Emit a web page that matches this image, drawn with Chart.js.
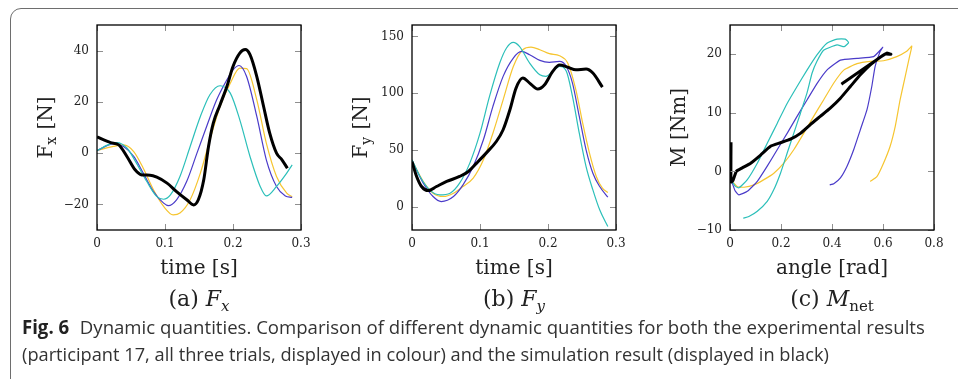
<!DOCTYPE html>
<html>
<head>
<meta charset="utf-8">
<script src="https://cdn.jsdelivr.net/npm/chart.js@4/dist/chart.umd.min.js"></script>
<style>
  body { margin: 0; width: 958px; height: 379px; overflow: hidden; background: #fff; position: relative; }
  .frame { position: absolute; left: 10px; top: 8px; width: 1000px; height: 430px; border: 1.5px solid #6e6e6e; border-radius: 11px; box-sizing: border-box; }
  canvas { position: absolute; top: 0; }
  .sub { position: absolute; top: 286px; font-family: "DejaVu Serif", serif; font-size: 22px; color: #222; white-space: nowrap; transform: translateX(-50%); }
  .sub sub { font-size: 15px; vertical-align: -5px; }
  .cap { position: absolute; left: 22px; font-family: "Open Sans", sans-serif; font-size: 19px; color: #333; white-space: nowrap; transform-origin: 0 0; }
  .cap b { color: #222; margin-right: 6px; }
</style>
</head>
<body>
<div class="frame"></div>
<canvas id="chA" width="320" height="290" style="left:0px"></canvas>
<canvas id="chB" width="320" height="290" style="left:320px"></canvas>
<canvas id="chC" width="318" height="290" style="left:640px"></canvas>
<div class="sub" style="left:199px">(a)&nbsp;<i>F</i><sub><i>x</i></sub></div>
<div class="sub" style="left:514px">(b)&nbsp;<i>F</i><sub><i>y</i></sub></div>
<div class="sub" style="left:832px">(c)&nbsp;<i>M</i><sub>net</sub></div>
<div class="cap" id="cap1" style="top:314px"><b>Fig. 6</b> Dynamic quantities. Comparison of different dynamic quantities for both the experimental results</div>
<div class="cap" id="cap2" style="top:341px">(participant 17, all three trials, displayed in colour) and the simulation result (displayed in black)</div>
<script>
// colours of the three trials
const colCyan = '#2bbfb9';
const colPurple = '#4a3bc9';
const colYellow = '#f6c530';

// tick values
const timeTicks = [0, 0.1, 0.2, 0.3];
const angleTicks = [0, 0.2, 0.4, 0.6, 0.8];
const fxTicks = [-20, 0, 20, 40];
const fyTicks = [0, 50, 100, 150];
const mTicks = [-10, 0, 10, 20];

// (a) Fx over time
const fxSimT = [0, 0.02, 0.032, 0.044, 0.056, 0.066, 0.078, 0.088, 0.103, 0.117, 0.132, 0.142, 0.149, 0.157, 0.164, 0.171, 0.181, 0.191, 0.2, 0.21, 0.218, 0.225, 0.235, 0.245, 0.254, 0.264, 0.272, 0.28];
const fxSim = [6.3, 4.1, 3.2, -1.3, -6.5, -8.5, -8.6, -9.4, -11.7, -15, -18.2, -20.2, -18.2, -10.4, 2.6, 11.7, 18.9, 26, 33.8, 39, 40.4, 38.4, 29.9, 18.2, 7.8, 0, -2.6, -5.9];
const fxCyanT = [0, 0.0196, 0.029, 0.044, 0.058, 0.073, 0.088, 0.098, 0.108, 0.122, 0.137, 0.152, 0.166, 0.181, 0.196, 0.21, 0.225, 0.24, 0.249, 0.264, 0.279, 0.287];
const fxCyan = [1, 3.6, 4.1, 2, -3.9, -11, -17, -18, -16.3, -9.1, 2.6, 14.3, 22.8, 26.3, 23.4, 13, -1.3, -13, -16.7, -13, -7.8, -4.6];
const fxPurpleT = [0, 0.024, 0.039, 0.054, 0.068, 0.083, 0.098, 0.105, 0.117, 0.132, 0.147, 0.162, 0.176, 0.191, 0.2, 0.209, 0.22, 0.235, 0.249, 0.264, 0.277, 0.287];
const fxPurple = [1, 3.6, 2.6, -1.3, -7.8, -15, -19.5, -20.5, -18.2, -11, 0, 11, 20.8, 28.6, 32.5, 34.2, 29.9, 14.3, -2.6, -13, -16.7, -17.3];
const fxYellowT = [0, 0.024, 0.039, 0.054, 0.068, 0.083, 0.098, 0.112, 0.122, 0.137, 0.152, 0.166, 0.181, 0.196, 0.21, 0.22, 0.235, 0.249, 0.264, 0.279, 0.287];
const fxYellow = [1, 2.6, 3.2, 0.6, -5.9, -14.3, -20.8, -24.1, -23.4, -18.2, -7.8, 5.2, 18.2, 27.3, 33.2, 33, 20.8, 3.9, -9.1, -15.6, -17];

// (b) Fy over time
const fySimT = [0, 0.0068, 0.014, 0.024, 0.036, 0.051, 0.07, 0.083, 0.095, 0.109, 0.124, 0.134, 0.144, 0.153, 0.163, 0.173, 0.185, 0.195, 0.207, 0.217, 0.229, 0.241, 0.256, 0.266, 0.28];
const fySim = [40, 27, 18.2, 14.6, 18.2, 22.6, 27, 31.4, 38.7, 47.5, 57.7, 68, 85.6, 104.6, 113.4, 109, 103.7, 107.5, 119.3, 124.8, 123, 120.7, 121.3, 117.8, 105.5];
const fyCyanT = [0, 0.0117, 0.026, 0.041, 0.056, 0.07, 0.085, 0.1, 0.114, 0.129, 0.139, 0.149, 0.158, 0.173, 0.188, 0.197, 0.207, 0.217, 0.227, 0.236, 0.246, 0.256, 0.266, 0.276, 0.288];
const fyCyan = [41.6, 27, 15.2, 10.8, 12.3, 21.1, 38.7, 65, 97.3, 126.6, 139.8, 144.7, 141.2, 126.6, 116.3, 114.9, 119.3, 123.6, 119.3, 97.3, 65, 35.7, 15.2, -2.3, -17];
const fyPurpleT = [0, 0.0166, 0.031, 0.043, 0.061, 0.075, 0.09, 0.105, 0.119, 0.134, 0.149, 0.161, 0.173, 0.188, 0.202, 0.217, 0.227, 0.236, 0.246, 0.256, 0.266, 0.276, 0.288];
const fyPurple = [41, 21.1, 9.4, 5, 9.4, 19.6, 35.7, 59.2, 88.5, 114.9, 131, 136.8, 133.9, 128.9, 127.2, 128, 123.6, 109, 79.7, 50.4, 29.9, 18.2, 8.8];
const fyYellowT = [0, 0.0166, 0.031, 0.046, 0.061, 0.075, 0.09, 0.105, 0.119, 0.134, 0.149, 0.163, 0.175, 0.188, 0.202, 0.217, 0.229, 0.241, 0.251, 0.261, 0.271, 0.28, 0.288];
const fyYellow = [41, 22.6, 12.3, 9.4, 12.3, 18.2, 25.5, 41.6, 65, 94.3, 123.6, 138.3, 140.6, 138.3, 134.8, 133, 126.6, 103.1, 73.8, 47.5, 27, 16.7, 12.9];

// (c) Mnet over angle
const mSimA = [0.004, 0.004, 0.012, 0.025, 0.048, 0.081, 0.12, 0.159, 0.198, 0.237, 0.276, 0.315, 0.354, 0.393, 0.433, 0.472, 0.511, 0.55, 0.589, 0.615, 0.631, 0.608, 0.437];
const mSim = [5, -1.8, -1.5, 0, 0.6, 1.4, 2.8, 4.3, 4.9, 5.5, 6.5, 8, 9.4, 10.8, 12.5, 14.5, 16.5, 18.2, 19.5, 20.2, 20, 20, 14.9];
const mCyanA = [0.005, 0.02, 0.035, 0.068, 0.107, 0.146, 0.185, 0.224, 0.263, 0.302, 0.341, 0.38, 0.42, 0.452, 0.465, 0.448, 0.42, 0.367, 0.341, 0.322, 0.302, 0.276, 0.25, 0.224, 0.198, 0.172, 0.146, 0.107, 0.074, 0.052];
const mCyan = [-1.5, -2.5, -2.8, -1.4, 1.4, 4.8, 8.2, 11.6, 14.5, 17.3, 19.9, 21.9, 22.6, 22.6, 22, 21.3, 21.6, 20.7, 18.8, 16.8, 13.4, 9.9, 6.5, 3.1, -0.3, -3.1, -5.1, -6.8, -7.7, -8];
const mPurpleA = [0.005, 0.02, 0.035, 0.068, 0.107, 0.146, 0.185, 0.224, 0.263, 0.302, 0.341, 0.38, 0.433, 0.498, 0.563, 0.589, 0.599, 0.589, 0.569, 0.556, 0.537, 0.511, 0.485, 0.459, 0.433, 0.407, 0.391];
const mPurple = [-1.5, -3.3, -4, -3.4, -1.7, 0.9, 3.7, 6.5, 9.4, 12.2, 15, 17.3, 19, 19.3, 19.6, 20.7, 21.2, 20.5, 17.9, 14.5, 10.5, 7.1, 3.7, 0.9, -1.1, -2.1, -2.3];
const mYellowA = [0.005, 0.029, 0.055, 0.094, 0.133, 0.172, 0.211, 0.25, 0.289, 0.328, 0.367, 0.407, 0.446, 0.498, 0.55, 0.602, 0.654, 0.693, 0.713, 0.704, 0.687, 0.667, 0.648, 0.628, 0.602, 0.576, 0.55];
const mYellow = [-1.5, -2.6, -2.7, -2.3, -1.4, -0.3, 1.4, 3.7, 6.5, 9.4, 12.2, 15.1, 17.3, 18.4, 18.8, 18.9, 19.6, 20.5, 21.4, 19.6, 16.2, 12.2, 7.7, 4.3, 1.4, -0.9, -1.7];

const serif = 'DejaVu Serif';

function pts(xs, ys) {
  return xs.map((x, i) => ({ x: x, y: ys[i] }));
}

function series(xs, ys, color, width, smooth) {
  return {
    data: pts(xs, ys),
    borderColor: color,
    borderWidth: width,
    showLine: true,
    pointRadius: 0,
    fill: false,
    cubicInterpolationMode: smooth ? 'monotone' : 'default',
    tension: smooth ? 0 : 0.15,
  };
}

// pgfplots-like box: inward ticks on all four sides, black frame, y title with subscript
const boxPlugin = {
  id: 'box',
  afterDatasetsDraw(chart, args, opts) {
    const { ctx, chartArea: a, scales } = chart;
    const L = 6;
    ctx.save();
    ctx.strokeStyle = '#8f8f8f';
    ctx.lineWidth = 1;
    ctx.beginPath();
    scales.x.ticks.forEach(t => {
      const px = Math.round(scales.x.getPixelForValue(t.value)) + 0.5;
      ctx.moveTo(px, a.top); ctx.lineTo(px, a.top + L);
      ctx.moveTo(px, a.bottom); ctx.lineTo(px, a.bottom - L);
    });
    scales.y.ticks.forEach(t => {
      const py = Math.round(scales.y.getPixelForValue(t.value)) + 0.5;
      ctx.moveTo(a.left, py); ctx.lineTo(a.left + L, py);
      ctx.moveTo(a.right, py); ctx.lineTo(a.right - L, py);
    });
    ctx.stroke();
    ctx.strokeStyle = '#000';
    ctx.lineWidth = 1.3;
    ctx.strokeRect(a.left, a.top, a.width, a.height);

    // y axis title
    ctx.translate(a.left - 50, (a.top + a.bottom) / 2);
    ctx.rotate(-Math.PI / 2);
    ctx.fillStyle = '#222';
    ctx.textBaseline = 'middle';
    ctx.textAlign = 'left';
    const big = '20px "' + serif + '"', small = '14px "' + serif + '"';
    ctx.font = big;
    const w1 = ctx.measureText(opts.main).width;
    const w3 = ctx.measureText(opts.rest).width;
    ctx.font = small;
    const w2 = opts.sub ? ctx.measureText(opts.sub).width + 1 : 0;
    let x0 = -(w1 + w2 + w3) / 2;
    ctx.font = big;
    ctx.fillText(opts.main, x0, 0);
    if (opts.sub) {
      ctx.font = small;
      ctx.fillText(opts.sub, x0 + w1, 5);
    }
    ctx.font = big;
    ctx.fillText(opts.rest, x0 + w1 + w2, 0);
    ctx.restore();
  }
};

function minus(v) {
  return v < 0 ? '\u2212' + Math.abs(v) : '' + v;
}

function build(id, yWidth, rightPad, xr, xTicks, yr, yTicks, xTitle, yTitle, datasets) {
  return new Chart(document.getElementById(id), {
    type: 'scatter',
    data: { datasets: datasets },
    options: {
      responsive: false,
      animation: false,
      devicePixelRatio: 1,
      layout: { padding: { left: 0, right: rightPad, top: 25, bottom: 0 } },
      plugins: {
        legend: { display: false },
        tooltip: { enabled: false },
        box: yTitle,
      },
      scales: {
        x: {
          type: 'linear',
          min: xr[0], max: xr[1],
          grid: { display: false, drawTicks: false },
          border: { display: false },
          afterBuildTicks: s => { s.ticks = xTicks.map(v => ({ value: v })); },
          ticks: {
            autoSkip: false, maxRotation: 0,
            padding: 7, color: '#222', font: { family: serif, size: 12 },
            callback: v => '' + (+v.toFixed(1)),
          },
          title: {
            display: true, text: xTitle, color: '#222',
            font: { family: serif, size: 20 }, padding: { top: 0, bottom: 9 },
          },
          afterFit: s => { s.height = 60; },
        },
        y: {
          type: 'linear',
          min: yr[0], max: yr[1],
          grid: { display: false, drawTicks: false },
          border: { display: false },
          afterBuildTicks: s => { s.ticks = yTicks.map(v => ({ value: v })); },
          ticks: {
            autoSkip: false,
            padding: 8, color: '#222', font: { family: serif, size: 12 },
            callback: v => minus(v),
          },
          afterFit: s => { s.width = yWidth; },
        },
      },
    },
    plugins: [boxPlugin],
  });
}

build('chA', 97, 19, [0, 0.3], timeTicks, [-30, 50], fxTicks, 'time [s]', { main: 'F', sub: 'x', rest: ' [N]' }, [
  series(fxSimT, fxSim, '#000', 3, true),
  series(fxCyanT, fxCyan, colCyan, 1.2, true),
  series(fxPurpleT, fxPurple, colPurple, 1.2, true),
  series(fxYellowT, fxYellow, colYellow, 1.2, true),
]);

build('chB', 92, 24, [0, 0.3], timeTicks, [-20, 160], fyTicks, 'time [s]', { main: 'F', sub: 'y', rest: ' [N]' }, [
  series(fySimT, fySim, '#000', 3, true),
  series(fyCyanT, fyCyan, colCyan, 1.2, true),
  series(fyPurpleT, fyPurple, colPurple, 1.2, true),
  series(fyYellowT, fyYellow, colYellow, 1.2, true),
]);

build('chC', 90, 24, [0, 0.8], angleTicks, [-10, 25], mTicks, 'angle [rad]', { main: 'M [Nm]', sub: '', rest: '' }, [
  series(mSimA, mSim, '#000', 3, false),
  series(mCyanA, mCyan, colCyan, 1.2, false),
  series(mPurpleA, mPurple, colPurple, 1.2, false),
  series(mYellowA, mYellow, colYellow, 1.2, false),
]);

// squeeze caption lines to the width of the printed caption
const cap1 = document.getElementById('cap1');
const cap2 = document.getElementById('cap2');
cap1.style.transform = 'scaleX(' + (903 / cap1.scrollWidth) + ')';
cap2.style.transform = 'scaleX(' + (807 / cap2.scrollWidth) + ')';
</script>
</body>
</html>
